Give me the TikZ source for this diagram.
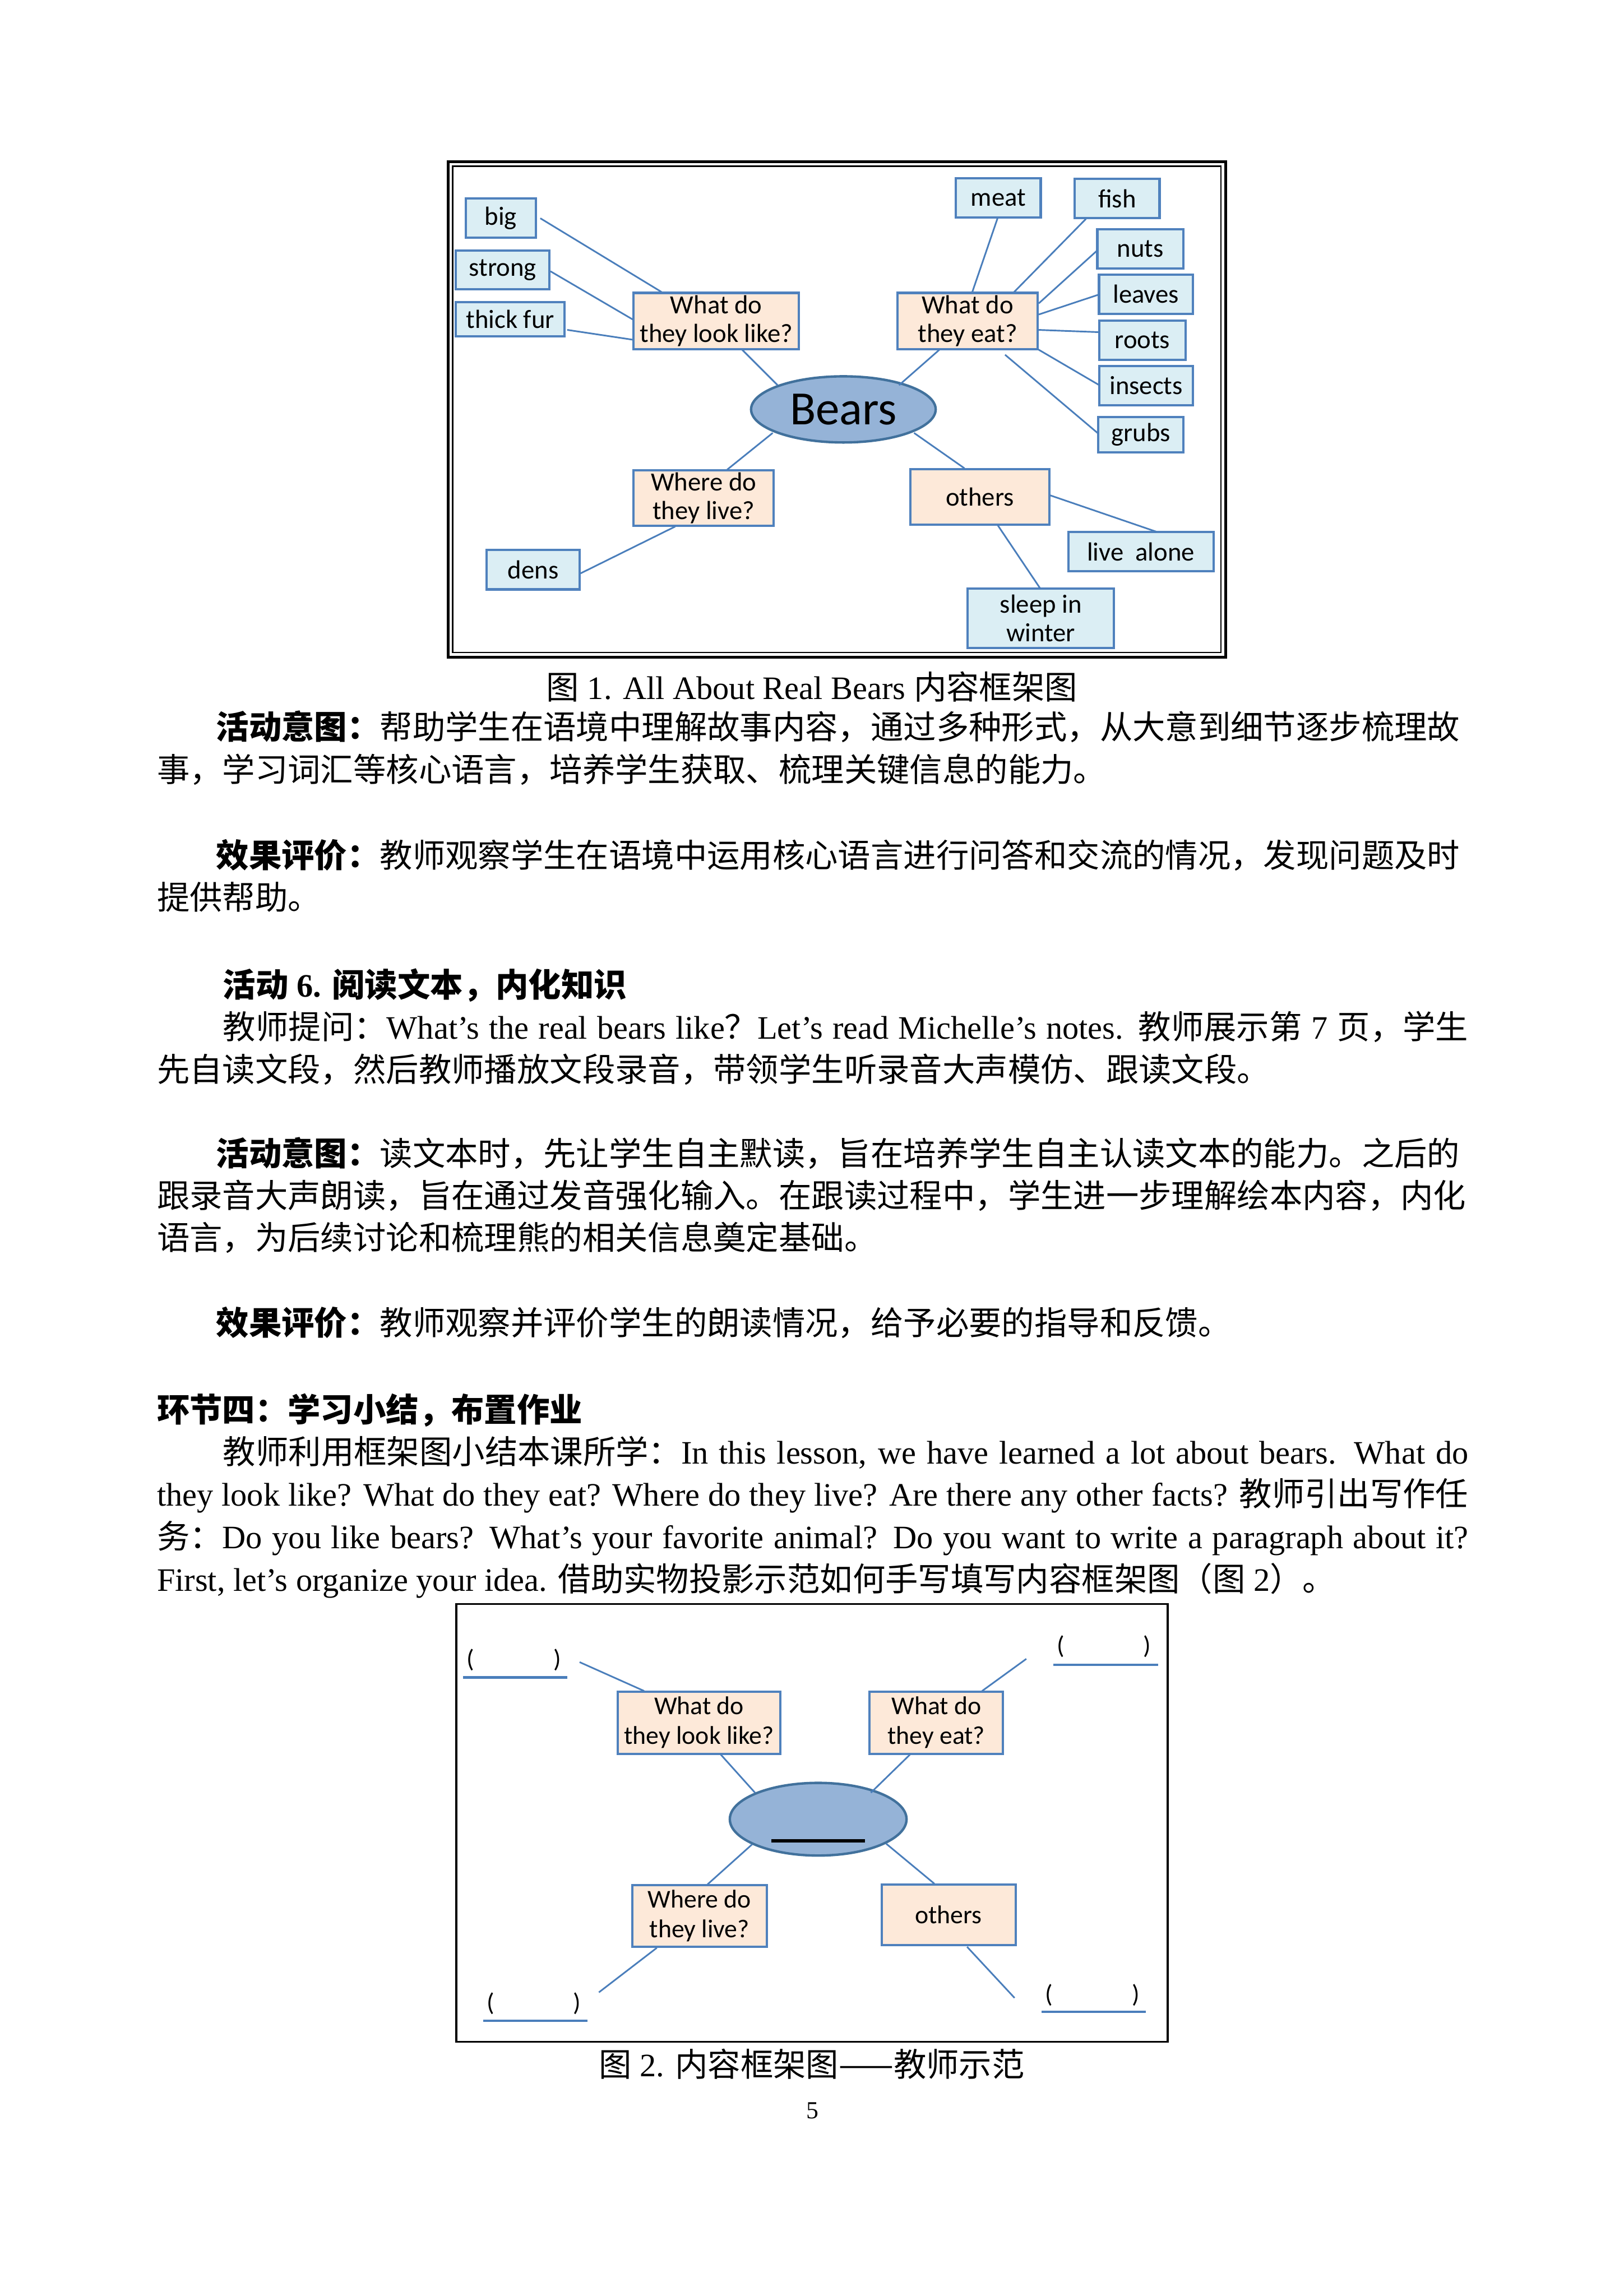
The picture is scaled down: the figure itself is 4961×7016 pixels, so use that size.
\documentclass[tikz,border=0pt]{standalone}
\usepackage{fontspec}
\setmainfont{Liberation Serif}
\newfontfamily\zh{Noto Sans CJK SC}
\newfontfamily\calfont{Carlito}
\usetikzlibrary{calc,shapes.geometric}
\XeTeXlinebreaklocale "zh"
\XeTeXlinebreakskip=0pt plus 3pt minus 0.5pt
\definecolor{bord}{HTML}{4F81BD}
\definecolor{lnc}{HTML}{4A7EBB}
\definecolor{lblue}{HTML}{DBEEF4}
\definecolor{peach}{HTML}{FDE9D9}
\definecolor{ellfill}{HTML}{95B3D7}
\definecolor{elldraw}{HTML}{41719C}
\newlength\jlen
\newcommand\jl[2]{\pgfmathsetlength\jlen{#1*0.12pt}\hbox to \jlen{#2}}
\tikzset{
  sz/.style 2 args={minimum width=#1*0.12pt, minimum height=#2*0.12pt},
  bluebox/.style={draw=bord, line width=0.85pt, fill=lblue, inner sep=0pt, align=center, font=\calfont\fontsize{9.6}{10.4}\selectfont},
  peachbox/.style={bluebox, fill=peach},
  bluebox2/.style={bluebox, font=\calfont\fontsize{9.4}{10.9}\selectfont},
  peachbox2/.style={bluebox2, fill=peach},
  conn/.style={draw=lnc, line width=0.6pt},
  blank/.style={draw=lnc, line width=0.9pt},
  paren/.style={inner sep=0pt, font=\calfont\fontsize{9.2}{10}\selectfont},
  txt/.style={anchor=base west, inner sep=0pt, font=\fontsize{12}{15.6}\selectfont},
  ctxt/.style={txt, anchor=base},
}
\begin{document}
\begin{tikzpicture}[x=0.12pt,y=-0.12pt]
\useasboundingbox (0,0) rectangle (4961,7016);
\fill[white] (0,0) rectangle (4961,7016);

% ---------- Figure 1 ----------
\draw[line width=1.1pt] (1369,494) rectangle (3745,2008);
\draw[line width=0.45pt] (1383,508) rectangle (3731,1994);

\node[bluebox, sz={214}{120}] (big) at (1530,666) {big};
\node[bluebox, sz={286}{119}] (strong) at (1536,824.5) {strong};
\node[bluebox, sz={332}{104}] (fur) at (1559,975) {thick fur};
\node[peachbox, sz={505}{172}] (look) at (2188.5,981) {What do\\they look like?};
\node[bluebox, sz={259}{121}] (meat) at (3050.5,604.5) {meat};
\node[bluebox, sz={259}{121}] (fish) at (3413.5,606.5) {fish};
\node[bluebox, sz={263}{121}] (nuts) at (3484.5,760.5) {nuts};
\node[bluebox, sz={287}{120}] (leaves) at (3501.5,899) {leaves};
\node[bluebox, sz={263}{119}] (roots) at (3490.5,1039.5) {roots};
\node[bluebox, sz={286}{120}] (insects) at (3502,1178) {insects};
\node[bluebox, sz={261}{107}] (grubs) at (3485.5,1328.5) {grubs};
\node[peachbox, sz={429}{172}] (eat) at (2956.5,981) {What do\\they eat?};
\node[ellipse, draw=elldraw, line width=0.9pt, fill=ellfill, inner sep=0pt, sz={564}{202}, font=\calfont\fontsize{17.5}{19}\selectfont] (bears) at (2577,1251) {Bears};
\node[peachbox, sz={428}{170}] (where) at (2150,1522) {Where do\\they live?};
\node[peachbox, sz={426}{170}] (others) at (2994,1518) {others};
\node[bluebox, sz={284}{121}] (dens) at (1629,1740.5) {dens};
\node[bluebox, sz={444}{121}] (alone) at (3486,1685.5) {live\ \ alone};
\node[bluebox, sz={447}{181}] (sleep) at (3180.5,1889.5) {sleep in\\winter};

\draw[conn] ($(big)+(121,1)$) -- ($(look)+(-167.5,-89)$);
\draw[conn] ($(strong)+(146,4.5)$) -- ($(look)+(-255.5,-5)$);
\draw[conn] ($(fur)+(174,33)$) -- ($(look)+(-255.5,57)$);
\draw[conn] ($(look)+(79.5,88)$) -- ($(bears)+(-201,-74)$);
\draw[conn] ($(eat)+(-86.5,88)$) -- ($(bears)+(170,-74)$);
\draw[conn] ($(meat)+(-2.5,62.5)$) -- ($(eat)+(14.5,-89)$);
\draw[conn] ($(fish)+(-95.5,62.5)$) -- ($(eat)+(142.5,-89)$);
\draw[conn] ($(nuts)+(-131.5,4.5)$) -- ($(eat)+(217.5,-54)$);
\draw[conn] ($(leaves)+(-143.5,1)$) -- ($(eat)+(217.5,-20)$);
\draw[conn] ($(eat)+(214.5,27)$) -- ($(roots)+(-131.5,-24.5)$);
\draw[conn] ($(eat)+(214.5,86)$) -- ($(insects)+(-143,-1)$);
\draw[conn] ($(eat)+(114.5,103)$) -- ($(grubs)+(-129.5,-3.5)$);
\draw[conn] ($(bears)+(-216,72)$) -- ($(where)+(72,-87)$);
\draw[conn] ($(bears)+(216,72)$) -- ($(others)+(-47,-87)$);
\draw[conn] ($(where)+(-87,87)$) -- ($(dens)+(145,11.5)$);
\draw[conn] ($(others)+(213,-5)$) -- ($(alone)+(48,-60.5)$);
\draw[conn] ($(others)+(54,86)$) -- ($(sleep)+(-1.5,-90.5)$);

% ---------- Text ----------
\node[ctxt] (cap1) at (2481,2136) {{\zh 图} 1. All About Real Bears {\zh 内容框架图}};
\node[txt] (l2) at (659,2258) {\jl{3826}{{\zh\bfseries 活动意图：}{\zh 帮助学生在语境中理解故事内容，通过多种形式，从大意到细节逐步梳理故}}};
\node[txt] (l3) at (478,2388) {\zh 事，学习词汇等核心语言，培养学生获取、梳理关键信息的能力。};
\node[txt] (l5) at (659,2651) {\jl{3826}{{\zh\bfseries 效果评价：}{\zh 教师观察学生在语境中运用核心语言进行问答和交流的情况，发现问题及时}}};
\node[txt] (l6) at (478,2779) {\zh 提供帮助。};
\node[txt] (l7) at (680,3047) {\bfseries{\zh 活动} 6. {\zh 阅读文本，内化知识}};
\node[txt] (l8) at (680,3175) {\jl{3805}{{\zh 教师提问：}What’s the real bears like{\zh ？}Let’s read Michelle’s notes. {\zh 教师展示第} 7 {\zh 页，学生}}};
\node[txt] (l9) at (478,3305) {\zh 先自读文段，然后教师播放文段录音，带领学生听录音大声模仿、跟读文段。};
\node[txt] (l10) at (659,3562) {\jl{3826}{{\zh\bfseries 活动意图：}{\zh 读文本时，先让学生自主默读，旨在培养学生自主认读文本的能力。之后的}}};
\node[txt] (l11) at (478,3691) {\jl{4007}{\zh 跟录音大声朗读，旨在通过发音强化输入。在跟读过程中，学生进一步理解绘本内容，内化}};
\node[txt] (l12) at (478,3818) {\zh 语言，为后续讨论和梳理熊的相关信息奠定基础。};
\node[txt] (l13) at (659,4079) {{\zh\bfseries 效果评价：}{\zh 教师观察并评价学生的朗读情况，给予必要的指导和反馈。}};
\node[txt] (l14) at (478,4345) {\zh\bfseries 环节四：学习小结，布置作业};
\node[txt] (l15) at (680,4474) {\jl{3805}{{\zh 教师利用框架图小结本课所学：}In this lesson, we have learned a lot about bears. What do}};
\node[txt] (l16) at (478,4602) {\jl{4007}{they look like? What do they eat? Where do they live? Are there any other facts? {\zh 教师引出写作任}}};
\node[txt] (l17) at (478,4732) {\jl{4007}{{\zh 务：}Do you like bears? What’s your favorite animal? Do you want to write a paragraph about it?}};
\node[txt] (l18) at (478,4862) {First, let’s organize your idea. {\zh 借助实物投影示范如何手写填写内容框架图（图} 2{\zh ）。}};

% ---------- Figure 2 ----------
\draw[line width=0.7pt] (1394,4901) rectangle (3568,6239);

\node[peachbox2, sz={498}{190}] (look2) at (2136,5264) {What do\\they look like?};
\node[peachbox2, sz={408}{190}] (eat2) at (2861,5264) {What do\\they eat?};
\node[ellipse, draw=elldraw, line width=0.9pt, fill=ellfill, inner sep=0pt, sz={540}{222}] (bears2) at (2500,5559) {};
\node[peachbox2, sz={411}{189}] (where2) at (2137.5,5854.5) {Where do\\they live?};
\node[peachbox2, sz={409}{186}] (others2) at (2898.5,5851) {others};

\node[paren] (pTL) at (1570,5073) {(\hspace*{29pt})};
\node[paren] (pTR) at (3373,5031) {(\hspace*{29pt})};
\node[paren] (pBL) at (1631,6122) {(\hspace*{29pt})};
\node[paren] (pBR) at (3338,6096) {(\hspace*{29pt})};
\draw[blank] ($(pTL)+(-155,53)$) -- ($(pTL)+(164,53)$);
\draw[blank] ($(pTR)+(-155,56)$) -- ($(pTR)+(166,56)$);
\draw[blank] ($(pBL)+(-155,53)$) -- ($(pBL)+(164,53)$);
\draw[blank] ($(pBR)+(-155,52)$) -- ($(pBR)+(163,52)$);
\draw[line width=1.1pt] ($(bears2)+(-143,66)$) -- ($(bears2)+(143,66)$);

\coordinate (cTL) at (1771,5079);
\coordinate (cTR) at (3136,5069);
\coordinate (cBL) at (1830,6088);
\coordinate (cBR) at (3100,6105);
\draw[conn] (cTL) -- ($(look2)+(-168,-97)$);
\draw[conn] (cTR) -- ($(eat2)+(140,-97)$);
\draw[conn] ($(look2)+(65,96)$) -- ($(bears2)+(-193,-81)$);
\draw[conn] ($(eat2)+(-79,96)$) -- ($(bears2)+(161,-81)$);
\draw[conn] ($(bears2)+(-202,77)$) -- ($(where2)+(24.5,-96.5)$);
\draw[conn] ($(bears2)+(208,75)$) -- ($(others2)+(-43.5,-95)$);
\draw[conn] ($(where2)+(-130.5,97.5)$) -- (cBL);
\draw[conn] ($(others2)+(56.5,98)$) -- (cBR);

\node[ctxt] (cap2) at (2480,6345) {{\zh 图} 2. {\zh 内容框架图——教师示范}};
\node[ctxt, font=\fontsize{9}{10}\selectfont] (pg) at (2483,6473) {5};
\end{tikzpicture}
\end{document}
